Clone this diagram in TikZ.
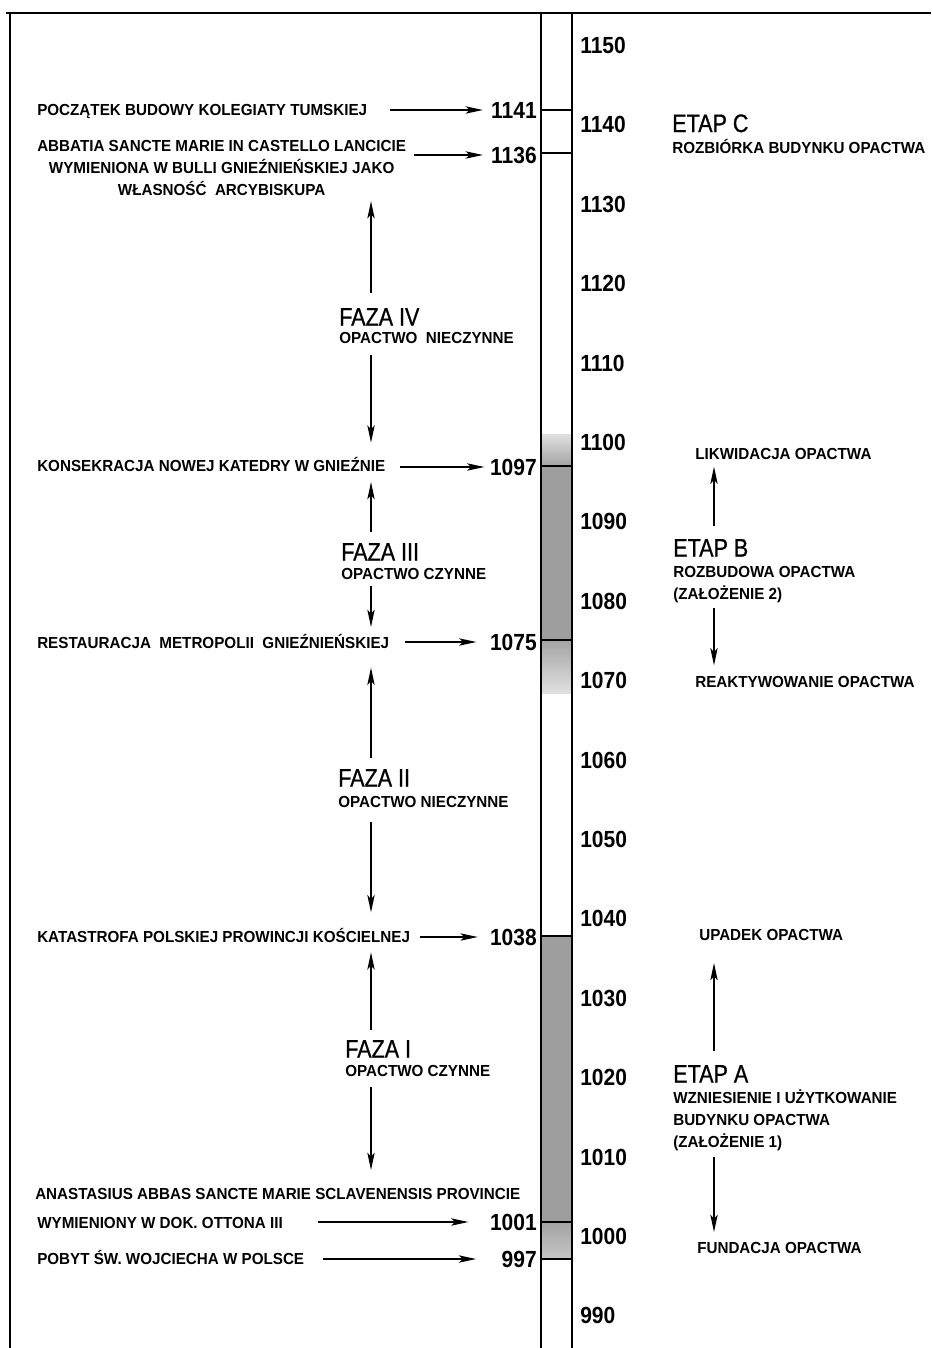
\documentclass[tikz,border=0pt]{standalone}
\usepackage{fontspec}
\setmainfont[FakeStretch=0.95]{Liberation Sans}
\newfontfamily\titlefont[FakeStretch=0.85,FakeBold=0.8]{Liberation Sans}
\newfontfamily\yearfont[FakeStretch=0.9]{Liberation Sans}
\usetikzlibrary{arrows.meta,positioning}
\colorlet{barfill}{black!38}
\tikzset{
    event text/.style={anchor=west, inner sep=0pt, font=\bfseries\fontsize{12}{16}\selectfont, text height=8.6pt, text depth=0pt},
    event block/.style={inner sep=0pt, font=\bfseries\fontsize{12}{16.5}\selectfont},
    year label/.style={anchor=east, inner sep=0pt, font=\yearfont\bfseries\fontsize{17.5}{20}\selectfont, text height=12.5pt, text depth=0pt},
    scale label/.style={year label, anchor=west},
    stage title/.style={anchor=west, inner sep=0pt, font=\titlefont\fontsize{19}{22}\selectfont, text height=13.6pt, text depth=0pt},
    frame line/.style={line width=1.4pt},
    column line/.style={line width=1pt},
    event arrow/.style={->, line width=1pt, shorten >=5pt},
    stage arrow/.style={->, line width=1pt}
}

\begin{document}
\begin{tikzpicture}[x=0.75pt,y=-0.75pt,>={Stealth[length=13pt,width=5.5pt,inset=3pt]}]
\useasboundingbox (0,0) rectangle (931,1348);

% column fillings
\shade[top color=black!12, bottom color=black!36] (541,434) rectangle (572,466);
\fill[barfill] (541,466) rectangle (572,640);
\shade[top color=black!36, bottom color=black!12] (541,640) rectangle (572,693);
\fill[barfill] (541,936) rectangle (572,1222);
\shade[top color=black!36, bottom color=black!22] (541,1222) rectangle (572,1259);

% frame and column
\draw[frame line] (6,13) -- (931,13);
\draw[frame line] (10,13) -- (10,1348);
\draw[column line] (541,13) -- (541,1348);
\draw[column line] (572,13) -- (572,1348);
\foreach \y in {110,153,466,640,936,1222,1259}
    \draw[column line] (541,\y) -- (572,\y);

% scale
\foreach \yr in {990,1000,...,1150}
    \node[scale label] at (580,{466+(1097-\yr)*7.94}) {\yr};

% years of events
\node[year label] (y1141) at (537,110) {1141};
\node[year label] (y1136) at (537,155) {1136};
\node[year label] (y1097) at (537,467) {1097};
\node[year label] (y1075) at (537,642) {1075};
\node[year label] (y1038) at (537,937) {1038};
\node[year label] (y1001) at (537,1222) {1001};
\node[year label] (y997) at (537,1259) {997};

% events
\node[event text] (e1141) at (37,110) {POCZĄTEK BUDOWY KOLEGIATY TUMSKIEJ};
\node[event block, align=center, anchor=north west] (e1136) at (37,140)
    {ABBATIA SANCTE MARIE IN CASTELLO LANCICIE\\WYMIENIONA W BULLI GNIEŹNIEŃSKIEJ JAKO\\WŁASNOŚĆ~~ARCYBISKUPA};
\node[event text] (e1097) at (37,466) {KONSEKRACJA NOWEJ KATEDRY W GNIEŹNIE};
\node[event text] (e1075) at (37,643) {RESTAURACJA~~METROPOLII~~GNIEŹNIEŃSKIEJ};
\node[event text] (e1038) at (37,937) {KATASTROFA POLSKIEJ PROWINCJI KOŚCIELNEJ};
\node[event text] (e1001a) at (35,1194) {ANASTASIUS ABBAS SANCTE MARIE SCLAVENENSIS PROVINCIE};
\node[event text] (e1001) at (37,1223) {WYMIENIONY W DOK. OTTONA III};
\node[event text] (e997) at (37,1259) {POBYT ŚW. WOJCIECHA W POLSCE};

\coordinate (t1141) at (390,110);
\coordinate (t1136) at (414,155);
\coordinate (t1097) at (400,467);
\coordinate (t1075) at (405,642);
\coordinate (t1038) at (420,937);
\coordinate (t1001) at (318,1222);
\coordinate (t997) at (323,1259);
\draw[event arrow, shorten >=6pt] (t1141) -- (y1141);
\draw[event arrow, shorten >=6pt] (t1136) -- (y1136);
\draw[event arrow, shorten >=4pt] (t1097) -- (y1097);
\draw[event arrow, shorten >=10pt] (t1075) -- (y1075);
\draw[event arrow, shorten >=9pt] (t1038) -- (y1038);
\draw[event arrow, shorten >=16pt] (t1001) -- (y1001);
\draw[event arrow, shorten >=19pt] (t997) -- (y997);

% phases
\coordinate (fx) at (371,0);
\node[stage title] (f4) at (339,316.5) {FAZA IV};
\node[event text, anchor=north west, below right=4.5pt and 0pt of f4.south west] (f4s) {OPACTWO~~NIECZYNNE};
\node[stage title] (f3) at (341,551.5) {FAZA III};
\node[event text, anchor=north west, below right=5pt and 0pt of f3.south west] (f3s) {OPACTWO CZYNNE};
\node[stage title] (f2) at (338,777.5) {FAZA II};
\node[event text, anchor=north west, below right=7pt and 0pt of f2.south west] (f2s) {OPACTWO NIECZYNNE};
\node[stage title] (f1) at (345,1048.5) {FAZA I};
\node[event text, anchor=north west, below right=5pt and 0pt of f1.south west] (f1s) {OPACTWO CZYNNE};

\draw[stage arrow, shorten <=11pt, shorten >=4pt] (f4.north -| fx) -- (e1136.south -| fx);
\draw[stage arrow, shorten <=8pt, shorten >=13pt] (f4s.south -| fx) -- (e1097.north -| fx);
\draw[stage arrow, shorten <=7.5pt, shorten >=7.5pt] (f3.north -| fx) -- (e1097.south -| fx);
\draw[stage arrow, shorten <=5pt, shorten >=7.5pt] (f3s.south -| fx) -- (e1075.north -| fx);
\draw[stage arrow, shorten <=8pt, shorten >=14pt] (f2.north -| fx) -- (e1075.south -| fx);
\draw[stage arrow, shorten <=10pt, shorten >=14pt] (f2s.south -| fx) -- (e1038.north -| fx);
\draw[stage arrow, shorten <=7pt, shorten >=7pt] (f1.north -| fx) -- (e1038.south -| fx);
\draw[stage arrow, shorten <=7.5pt, shorten >=13.5pt] (f1s.south -| fx) -- (e1001a.north -| fx);

% stages of the building
\coordinate (ex) at (714,0);
\node[stage title] (eC) at (672,123) {ETAP C};
\node[event text, anchor=north west, below right=6.75pt and 0pt of eC.south west] (eCs) {ROZBIÓRKA BUDYNKU OPACTWA};

\node[event text] (eBtop) at (695,454) {LIKWIDACJA OPACTWA};
\node[stage title] (eB) at (673,547.5) {ETAP B};
\node[event block, align=left, anchor=north west, below right=6.75pt and 0pt of eB.south west] (eBs)
    {ROZBUDOWA OPACTWA\\(ZAŁOŻENIE 2)};
\node[event text] (eBbot) at (695,682) {REAKTYWOWANIE OPACTWA};

\node[event text] (eAtop) at (699,935) {UPADEK OPACTWA};
\node[stage title] (eA) at (673,1073.5) {ETAP A};
\node[event block, align=left, anchor=north west, below right=5.3pt and 0pt of eA.south west] (eAs)
    {WZNIESIENIE I UŻYTKOWANIE\\BUDYNKU OPACTWA\\(ZAŁOŻENIE 1)};
\node[event text] (eAbot) at (697,1248) {FUNDACJA OPACTWA};

\draw[stage arrow, shorten <=9pt, shorten >=5pt] (eB.north -| ex) -- (eBtop.south -| ex);
\draw[stage arrow, shorten <=4pt, shorten >=8pt] (eBs.south -| ex) -- (eBbot.north -| ex);
\draw[stage arrow, shorten <=10pt, shorten >=16.5pt] (eA.north -| ex) -- (eAtop.south -| ex);
\draw[stage arrow, shorten <=4pt, shorten >=7.5pt] (eAs.south -| ex) -- (eAbot.north -| ex);
\end{tikzpicture}
\end{document}
